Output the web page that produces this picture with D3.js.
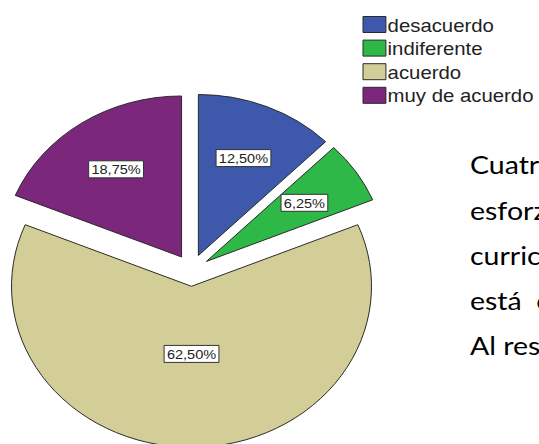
<!DOCTYPE html>
<html>
<head>
<meta charset="utf-8">
<script src="https://cdn.jsdelivr.net/npm/d3@7/dist/d3.min.js"></script>
<style>
  html, body { margin: 0; padding: 0; background: #fff; overflow: hidden; }
  svg { display: block; }
</style>
</head>
<body>
<svg id="chart" width="539" height="444"></svg>
<script>
const categories = ["desacuerdo", "indiferente", "acuerdo", "muy de acuerdo"];
const values = [12.5, 6.25, 62.5, 18.75];
const valueLabels = ["12,50%", "6,25%", "62,50%", "18,75%"];
const colors = ["#3e58ac", "#2eb848", "#d3ce97", "#7b277c"];
const paragraphLines = ["Cuatro de", "esforzado", "curricular", "está  conforme", "Al respecto"];

const W = 539, H = 444;
const sx = 1.118;               // the original picture is stretched horizontally
const cx = 171.3, cy = 270.3;   // pie centre (unstretched coordinates)
const R = 161, explode = 16;

const svg = d3.select("#chart");
svg.append("rect").attr("width", W).attr("height", H).attr("fill", "#fff");

const g = svg.append("g").attr("transform", `scale(${sx},1)`);

const data = categories.map((c, i) => ({ cat: c, value: values[i], label: valueLabels[i], color: colors[i] }));
const pie = d3.pie().sort(null).value(d => d.value).startAngle(0).endAngle(2 * Math.PI);
const arcs = pie(data);
const arc = d3.arc().innerRadius(0).outerRadius(R);

const slices = g.append("g").attr("transform", `translate(${cx},${cy})`);
arcs.forEach(a => {
  const mid = (a.startAngle + a.endAngle) / 2;
  const ox = explode * Math.sin(mid), oy = -explode * Math.cos(mid);
  const sg = slices.append("g").attr("transform", `translate(${ox},${oy})`);
  sg.append("path")
    .attr("d", arc(a))
    .attr("fill", a.data.color)
    .attr("stroke", "#2a2a2a")
    .attr("stroke-width", 1)
    .attr("vector-effect", "non-scaling-stroke");
  const lr = (a.endAngle - a.startAngle) > Math.PI ? 0.42 * R : 0.655 * R;
  const lx = lr * Math.sin(mid), ly = -lr * Math.cos(mid);
  const lg = sg.append("g").attr("transform", `translate(${lx},${ly})`);
  const rect = lg.append("rect");
  const t = lg.append("text")
    .attr("text-anchor", "middle")
    .attr("dy", "0.36em")
    .attr("font-family", "Liberation Sans, Arial, sans-serif")
    .attr("font-size", 13)
    .attr("fill", "#222")
    .text(a.data.label);
  const bb = t.node().getBBox();
  rect.attr("x", bb.x - 2.5).attr("y", -8.5)
    .attr("width", bb.width + 5).attr("height", 17)
    .attr("fill", "#fff")
    .attr("stroke", "#333")
    .attr("stroke-width", 1)
    .attr("vector-effect", "non-scaling-stroke");
});

// legend
const legend = g.append("g").attr("transform", `translate(${363 / sx},16.5)`);
data.forEach((d, i) => {
  const row = legend.append("g").attr("transform", `translate(0,${i * 23.6})`);
  row.append("rect")
    .attr("width", 20.5).attr("height", 16)
    .attr("fill", d.color)
    .attr("stroke", "#2a2a2a")
    .attr("stroke-width", 1)
    .attr("vector-effect", "non-scaling-stroke");
  row.append("text")
    .attr("x", 22).attr("y", 15)
    .attr("font-family", "Liberation Sans, Arial, sans-serif")
    .attr("font-size", 18.2)
    .attr("fill", "#222")
    .text(d.cat);
});

// paragraph text (cut at the right edge)
const para = g.append("g");
paragraphLines.forEach((line, i) => {
  para.append("text")
    .attr("x", 470 / sx).attr("y", 174.5 + i * 45.2)
    .attr("font-family", "Lato, 'Open Sans', sans-serif")
    .attr("font-size", 25.5)
    .attr("fill", "#000")
    .attr("xml:space", "preserve")
    .style("white-space", "pre")
    .text(line);
});
</script>
</body>
</html>
